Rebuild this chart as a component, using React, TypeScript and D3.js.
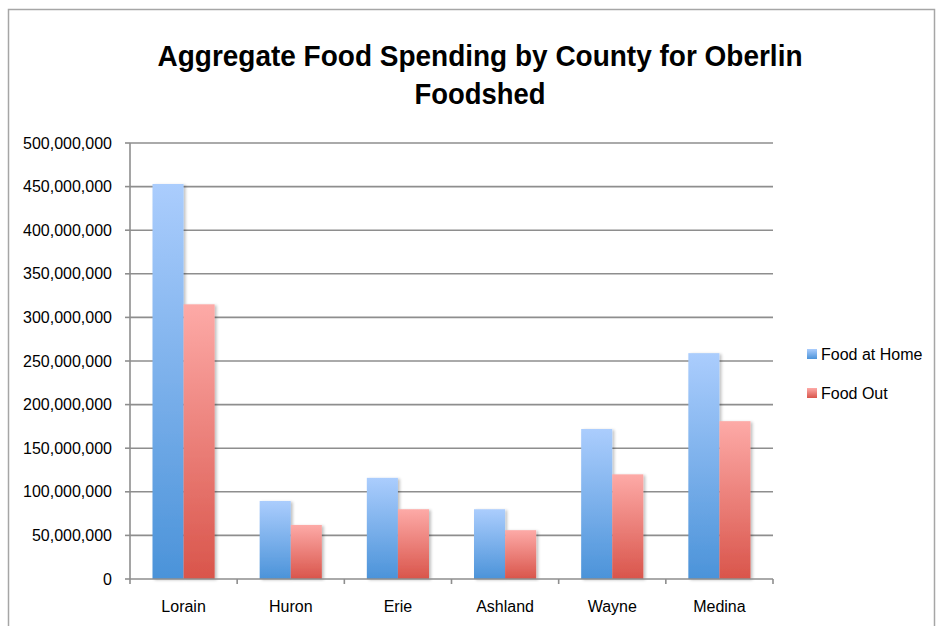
import React from "react";
import * as d3 from "d3";

const categories = ["Lorain", "Huron", "Erie", "Ashland", "Wayne", "Medina"];
const foodAtHome = [453000000, 89500000, 116000000, 80000000, 172000000, 259000000];
const foodOut = [315000000, 62000000, 80000000, 56000000, 120000000, 181000000];
const seriesNames = ["Food at Home", "Food Out"];
const yTicks = [0, 50000000, 100000000, 150000000, 200000000, 250000000, 300000000, 350000000, 400000000, 450000000, 500000000];
const titleLines = ["Aggregate Food Spending by County for Oberlin", "Foodshed"];

const W = 940;
const H = 626;
const plot = { left: 130, right: 773, top: 143, bottom: 579 };
const FONT = "'Liberation Sans', Arial, sans-serif";

export default function App() {
  const x0 = d3.scaleBand<string>().domain(categories).range([plot.left, plot.right]).paddingInner(0).paddingOuter(0);
  const bw = x0.bandwidth();
  const barW = bw * 0.29;
  const groupW = barW * 2;
  const y = d3.scaleLinear().domain([0, 500000000]).range([plot.bottom, plot.top]);
  const fmt = d3.format(",");
  const series = [foodAtHome, foodOut];
  const grads = ["gBlue", "gRed"];

  return (
    <svg width={W} height={H} style={{ position: "absolute", left: 0, top: 0 }}>
      <defs>
        <linearGradient id="gBlue" x1="0" y1="0" x2="0" y2="1">
          <stop offset="0" stopColor="#abcdfd" />
          <stop offset="1" stopColor="#4b93d9" />
        </linearGradient>
        <linearGradient id="gRed" x1="0" y1="0" x2="0" y2="1">
          <stop offset="0" stopColor="#fdaaa7" />
          <stop offset="1" stopColor="#d9554b" />
        </linearGradient>
        <filter id="shadow" x="-20%" y="-5%" width="150%" height="110%">
          <feGaussianBlur in="SourceAlpha" stdDeviation="1.5" />
          <feOffset dx="2" dy="1" result="b" />
          <feComponentTransfer>
            <feFuncA type="linear" slope="0.25" />
          </feComponentTransfer>
          <feMerge>
            <feMergeNode />
            <feMergeNode in="SourceGraphic" />
          </feMerge>
        </filter>
      </defs>
      <rect x={0} y={0} width={W} height={H} fill="#fff" />
      <rect x={8.5} y={9.5} width={926} height={640} fill="#fff" stroke="#a6a6a6" strokeWidth={1.5} />

      {titleLines.map((t, i) => (
        <text key={t} x={480} y={66 + i * 38} textAnchor="middle" fontFamily={FONT} fontWeight="bold" fontSize={29}
          textLength={i === 0 ? 645 : 131} lengthAdjust="spacingAndGlyphs" fill="#000">
          {t}
        </text>
      ))}

      {yTicks.map((v) => (
        <g key={v}>
          {v > 0 && (
            <line x1={plot.left} x2={plot.right} y1={y(v)} y2={y(v)} stroke="#8e8e8e" strokeWidth={1.6} />
          )}
          <line x1={plot.left - 5} x2={plot.left} y1={y(v)} y2={y(v)} stroke="#8e8e8e" strokeWidth={1.6} />
          <text x={112} y={y(v) + 5.5} textAnchor="end" fontFamily={FONT} fontSize={16} fill="#000">
            {fmt(v)}
          </text>
        </g>
      ))}

      {categories.map((c, i) => (
        <g key={c}>
          {series.map((s, si) => {
            const xb = (x0(c) as number) + (bw - groupW) / 2 + si * barW;
            return (
              <rect key={si} x={xb} y={y(s[i])} width={barW} height={plot.bottom - y(s[i])}
                fill={`url(#${grads[si]})`} filter="url(#shadow)" />
            );
          })}
          <text x={(x0(c) as number) + bw / 2} y={612} textAnchor="middle" fontFamily={FONT} fontSize={16} fill="#000">
            {c}
          </text>
        </g>
      ))}

      <line x1={plot.left} x2={plot.left} y1={plot.top} y2={plot.bottom} stroke="#8e8e8e" strokeWidth={1.6} />
      <line x1={plot.left} x2={plot.right} y1={plot.bottom} y2={plot.bottom} stroke="#8e8e8e" strokeWidth={1.6} />
      {[...categories.map((c) => x0(c) as number), plot.right].map((xv, i) => (
        <line key={i} x1={xv} x2={xv} y1={plot.bottom} y2={plot.bottom + 5} stroke="#8e8e8e" strokeWidth={1.6} />
      ))}

      {seriesNames.map((n, i) => (
        <g key={n}>
          <rect x={807} y={349 + i * 39} width={10} height={10} fill={`url(#${grads[i]})`} />
          <text x={821} y={360 + i * 39} fontFamily={FONT} fontSize={16} fill="#000">
            {n}
          </text>
        </g>
      ))}
    </svg>
  );
}
